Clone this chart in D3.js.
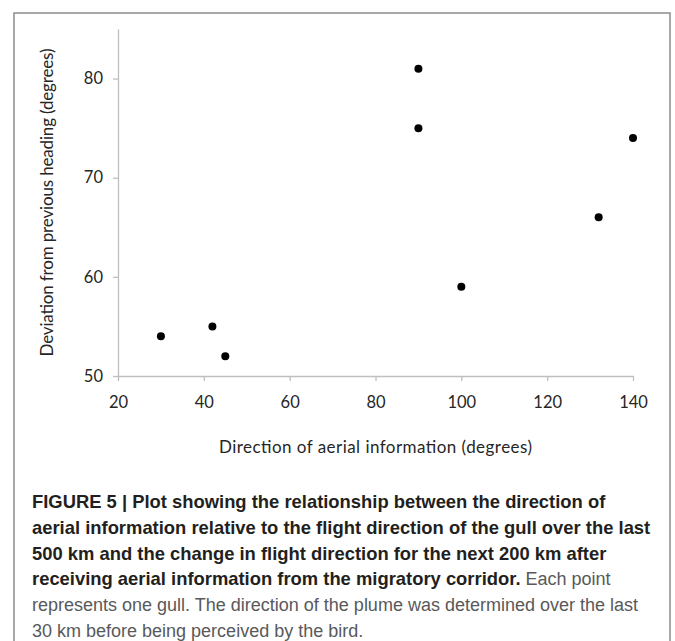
<!DOCTYPE html>
<html>
<head>
<meta charset="utf-8">
<script src="https://cdn.jsdelivr.net/npm/d3@7"></script>
<style>
  body { margin: 0; background: #fff; }
  svg { display: block; }
</style>
</head>
<body>
<svg width="675" height="641"></svg>
<script>
// data: one point per gull
var direction = [30, 42, 45, 90, 90, 100, 132, 140];
var deviation = [54, 55, 52, 81, 75, 59, 66, 74];
var xTicks = [20, 40, 60, 80, 100, 120, 140];
var yTicks = [50, 60, 70, 80];

var xTitle = "Direction of aerial information (degrees)";
var yTitle = "Deviation from previous heading (degrees)";

// caption lines: [bold part, normal part]
var caption = [
  ["FIGURE 5 | Plot showing the relationship between the direction of", ""],
  ["aerial information relative to the flight direction of the gull over the last", ""],
  ["500 km and the change in flight direction for the next 200 km after", ""],
  ["receiving aerial information from the migratory corridor.", " Each point"],
  ["", "represents one gull. The direction of the plume was determined over the last"],
  ["", "30 km before being perceived by the bird."]
];

var svg = d3.select("svg");

// frame round the figure (bottom edge runs off the page)
svg.append("rect")
  .attr("x", 14).attr("y", 13)
  .attr("width", 656).attr("height", 700)
  .attr("fill", "none")
  .attr("stroke", "#8c8c8c")
  .attr("stroke-width", 1.5);

var points = direction.map(function(d, i) { return {x: d, y: deviation[i]}; });

var xScale = d3.scaleLinear().domain([20, 140]).range([118, 633]);
var yScale = d3.scaleLinear().domain([50, 85]).range([376, 29]);

var tickFont = "Lato, 'Open Sans', sans-serif";

var xAxis = svg.append("g")
  .attr("transform", "translate(0,376)")
  .call(d3.axisBottom(xScale).tickValues(xTicks).tickSize(5).tickSizeOuter(0).tickPadding(15));

var yAxis = svg.append("g")
  .attr("transform", "translate(118,0)")
  .call(d3.axisLeft(yScale).tickValues(yTicks).tickSize(5).tickSizeOuter(0).tickPadding(10));

[xAxis, yAxis].forEach(function(g) {
  g.select(".domain").attr("stroke", "#bfbfbf").attr("stroke-width", 1.3);
  g.selectAll(".tick line").attr("stroke", "#bfbfbf").attr("stroke-width", 1.3);
  g.selectAll(".tick text")
    .attr("fill", "#262626")
    .style("font-family", tickFont)
    .style("font-size", "16.5px");
});

svg.append("g").selectAll("circle")
  .data(points)
  .enter().append("circle")
  .attr("cx", function(d) { return xScale(d.x); })
  .attr("cy", function(d) { return yScale(d.y); })
  .attr("r", 4)
  .attr("fill", "#000");

// axis titles, lengths pinned to the reference
svg.append("text")
  .attr("x", (xScale(20) + xScale(140)) / 2)
  .attr("y", 453)
  .attr("text-anchor", "middle")
  .attr("textLength", 313)
  .attr("lengthAdjust", "spacing")
  .attr("fill", "#262626")
  .style("font-family", tickFont)
  .style("font-size", "17px")
  .text(xTitle);

svg.append("text")
  .attr("transform", "translate(53," + ((yScale(50) + yScale(85)) / 2) + ") rotate(-90)")
  .attr("text-anchor", "middle")
  .attr("textLength", 308)
  .attr("lengthAdjust", "spacing")
  .attr("fill", "#262626")
  .style("font-family", tickFont)
  .style("font-size", "17px")
  .text(yTitle);

// caption
var cap = svg.append("text")
  .style("font-family", "'Liberation Sans Narrow', 'Liberation Sans', Arial, sans-serif")
  .style("font-size", "18.4px");

caption.forEach(function(line, i) {
  var t = cap.append("tspan").attr("x", 32).attr("y", 508 + i * 25.8);
  if (line[0]) {
    t.append("tspan").attr("font-weight", "bold").attr("fill", "#231f20").text(line[0]);
  }
  if (line[1]) {
    t.append("tspan").attr("fill", "#58595b").style("font-size", "18px").text(line[1]);
  }
});
</script>
</body>
</html>
